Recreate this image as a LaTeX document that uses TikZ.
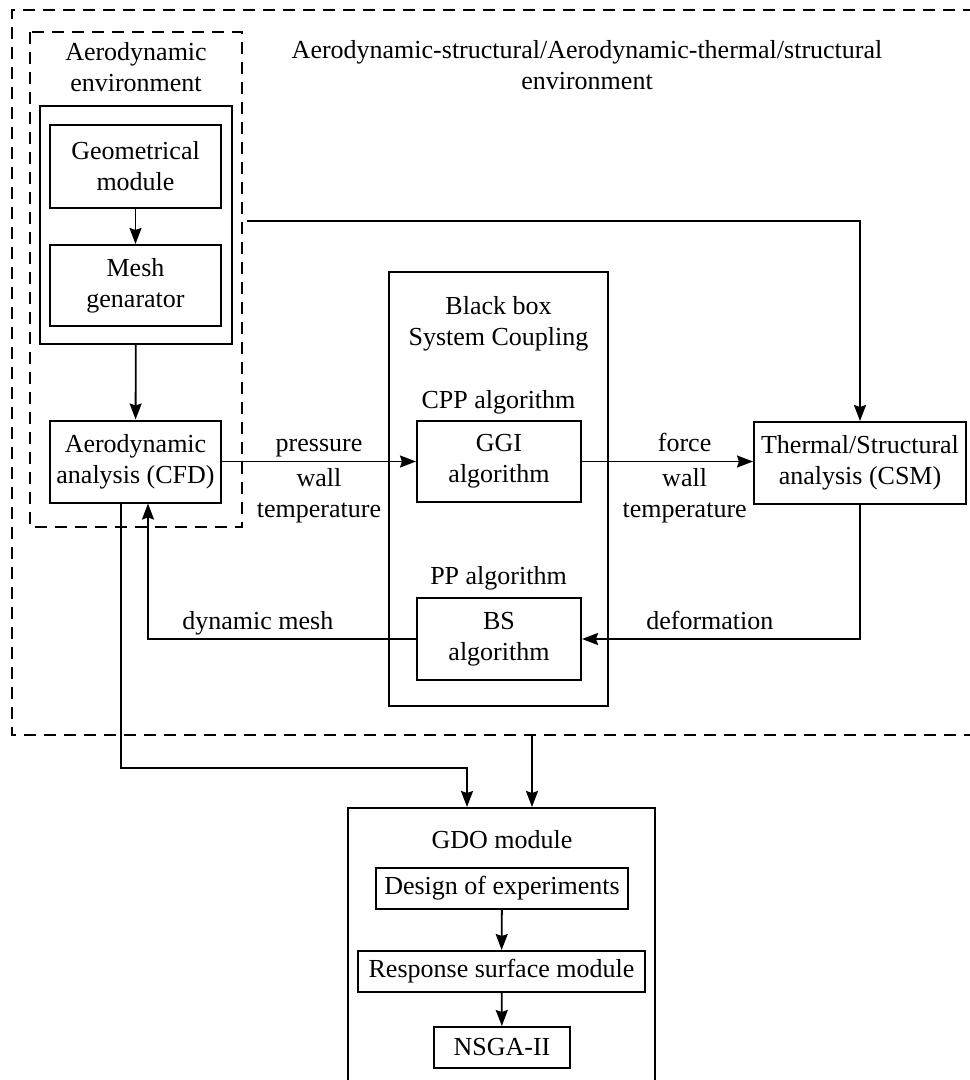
\documentclass[tikz,border=0pt]{standalone}
\usepackage{fontspec}
\setmainfont{Liberation Serif}
\usetikzlibrary{arrows.meta}
\tikzset{
  box/.style={draw, line width=1pt, align=center, inner sep=0pt},
  envline/.style={line width=0.9pt, dash pattern=on 6pt off 4pt},
  flow/.style={line width=0.9pt, -{Stealth[length=8pt,width=6pt,inset=1pt]}},
  lbl/.style={align=center, inner sep=1pt},
  over/.style={lbl, above, text height=0.7em, text depth=0.25em},
}
\begin{document}
\begin{tikzpicture}[x=0.5pt, y=-0.5pt, font=\fontsize{13}{15.5}\selectfont]
  \useasboundingbox (0,0) rectangle (969,1080);
  \draw[envline] (975,10) -- (12,10) -- (12,735) -- (975,735);
  \draw[envline] (30,32) rectangle (242,527);
  \coordinate (envout) at (532,735);

  \node[lbl] (envtitle) at (136,67) {Aerodynamic\\environment};
  \node[lbl] (fsititle) at (587,65) {Aerodynamic-structural/Aerodynamic-thermal/structural\\environment};

  \node[box, minimum width=96pt, minimum height=119pt] (envbox) at (136,225) {};
  \node[box, minimum width=85.5pt, minimum height=41.5pt] (geo) at (135.5,166.5) {Geometrical\\module};
  \node[box, minimum width=85.5pt, minimum height=40.5pt] (mesh) at (135.5,285.5) {Mesh\\genarator};
  \node[box, minimum width=85.5pt, minimum height=41pt] (cfd) at (135.5,461.5) {Aerodynamic\\analysis (CFD)};

  \node[box, minimum width=109.5pt, minimum height=217pt] (coupling) at (498.5,489) {};
  \node[lbl] (couplingtitle) at (498.5,324) {Black box\\System Coupling};
  \node[lbl] (cpp) at (498.5,402) {CPP algorithm};
  \node[box, minimum width=82pt, minimum height=40.5pt] (ggi) at (499,461.5) {GGI\\algorithm};
  \node[lbl] (pp) at (498.5,578) {PP algorithm};
  \node[box, minimum width=82pt, minimum height=41pt] (bs) at (499,639) {BS\\algorithm};

  \node[box, minimum width=106pt, minimum height=41pt] (csm) at (860,463) {Thermal/Structural\\analysis (CSM)};

  \node[box, minimum width=153.5pt, minimum height=141pt] (gdo) at (501.5,949) {};
  \node[lbl] (gdotitle) at (502,840) {GDO module};
  \node[box, minimum width=126pt, minimum height=20.5pt] (doe) at (502,888.5) {Design of experiments};
  \node[box, minimum width=143.5pt, minimum height=20.5pt] (rsm) at (501.5,971.5) {Response surface module};
  \node[box, minimum width=68pt, minimum height=20.5pt] (nsga) at (502,1047.5) {NSGA-II};

  \begin{scope}[flow]
    \draw (geo) to (mesh);
    \draw (envbox) to (cfd);
    \draw[shorten <=7pt] ([yshift=2pt]envbox.east) -| (csm.north);
    \draw (cfd.east) to node[over, yshift=1pt] {pressure} node[lbl, below, yshift=-2pt] {wall\\temperature} (ggi.west);
    \draw (ggi.east) to node[over, pos=0.6, yshift=1pt] {force} node[lbl, pos=0.6, below, yshift=-2pt] {wall\\temperature} (ggi.east -| csm.west);
    \draw (csm.south) |- node[over, pos=0.77, yshift=1pt] {deformation} (bs.east);
    \draw (bs.west) -| node[over, pos=0.295, yshift=1pt] {dynamic mesh} ([xshift=6.25pt]cfd.south);
    \draw ([xshift=-7.25pt]cfd.south) |- ([xshift=-17.25pt, yshift=19.5pt]gdo.north) -- ([xshift=-17.25pt]gdo.north);
    \draw (envout) -- (envout |- gdo.north);
    \draw (doe) to (rsm);
    \draw (rsm) to (nsga);
  \end{scope}
\end{tikzpicture}
\end{document}
